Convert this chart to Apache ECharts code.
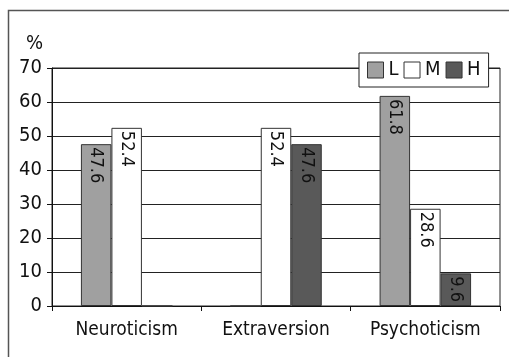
<!DOCTYPE html>
<html>
<head>
<meta charset="utf-8">
<script src="https://cdn.jsdelivr.net/npm/echarts@6/dist/echarts.min.js"></script>
<style>
  html, body { margin: 0; padding: 0; background: #fff; }
  #chart { width: 509px; height: 357px; }
</style>
</head>
<body>
<div id="chart"></div>
<script>
// Personality dimension scores: share of respondents (%) at each level
const categories = ['Neuroticism', 'Extraversion', 'Psychoticism'];
const levelNames = ['L', 'M', 'H'];
const valuesL = [47.6, 0, 61.8];
const valuesM = [52.4, 52.4, 28.6];
const valuesH = [0, 47.6, 9.6];
const yMin = 0, yMax = 70, yStep = 10;

const FONT = '"DejaVu Sans Condensed", "Liberation Sans Narrow", Roboto, sans-serif';
const levelColors = ['#a0a0a0', '#ffffff', '#595959'];
const levelValues = [valuesL, valuesM, valuesH];

const chart = echarts.init(document.getElementById('chart'), null, { renderer: 'canvas' });

const series = levelNames.map((name, i) => ({
  name: name,
  type: 'bar',
  data: levelValues[i],
  barWidth: 30.5,
  barGap: '0%',
  itemStyle: { color: levelColors[i], borderColor: '#333', borderWidth: 1 },
  label: {
    show: true,
    position: 'insideTop',
    distance: 3,
    rotate: -90,
    align: 'left',
    verticalAlign: 'middle',
    fontFamily: FONT,
    fontSize: 18,
    color: '#111',
    formatter: p => (p.value > 0 ? p.value.toFixed(1) : '')
  }
}));

chart.setOption({
  animation: false,
  backgroundColor: '#fff',
  textStyle: { fontFamily: FONT },
  graphic: [{
    type: 'polyline',
    shape: { points: [[8.5, 357], [8.5, 10.5], [509, 10.5]] },
    style: { stroke: '#555', lineWidth: 1.5, fill: null },
    silent: true
  }],
  grid: {
    left: 52, right: 9, top: 68, bottom: 51,
    show: true, borderColor: '#222', borderWidth: 1, backgroundColor: 'transparent'
  },
  legend: {
    data: levelNames,
    left: 359, top: 53,
    orient: 'horizontal',
    backgroundColor: '#fff',
    borderColor: '#222',
    borderWidth: 1,
    padding: [7, 8, 7, 8],
    itemWidth: 16, itemHeight: 16,
    itemGap: 5,
    itemTextGap: 7,
    icon: 'rect',
    itemStyle: { borderColor: '#333', borderWidth: 1 },
    textStyle: { fontFamily: FONT, fontSize: 20, color: '#111' }
  },
  xAxis: {
    type: 'category',
    data: categories,
    axisLine: { lineStyle: { color: '#111', width: 1 } },
    axisTick: { show: true, length: 5, lineStyle: { color: '#111' } },
    axisLabel: { interval: 0, fontFamily: FONT, fontSize: 19, color: '#111', margin: 15 }
  },
  yAxis: {
    type: 'value',
    min: yMin, max: yMax, interval: yStep,
    name: '%',
    nameLocation: 'end',
    nameGap: 14,
    nameTextStyle: { fontFamily: FONT, fontSize: 20, color: '#111', align: 'right', padding: [0, 9, 0, 0] },
    axisLine: { show: true, lineStyle: { color: '#111', width: 1 } },
    axisTick: { show: true, length: 5, lineStyle: { color: '#111' } },
    axisLabel: { fontFamily: FONT, fontSize: 20, color: '#111', margin: 10 },
    splitLine: { show: true, lineStyle: { color: '#222', width: 1 } }
  },
  series: series
});
</script>
</body>
</html>
